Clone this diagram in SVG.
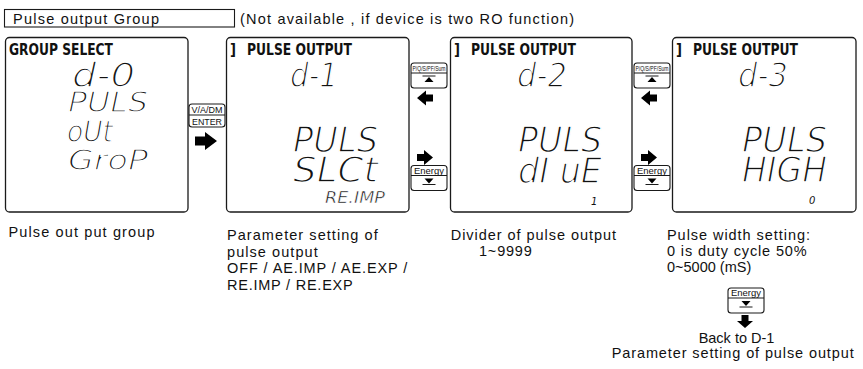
<svg xmlns="http://www.w3.org/2000/svg" width="863" height="369" viewBox="0 0 863 369">
<style>
.panel{fill:#fff;stroke:#1a1a1a;stroke-width:1.3}
.btn{fill:#fff;stroke:#1a1a1a;stroke-width:1.1}
.ln{stroke:#1a1a1a;stroke-width:1;fill:none}
.cap{font-family:"Liberation Sans",Arial,sans-serif;font-size:14.5px;fill:#111}
.hdr{font-family:"DejaVu Sans",sans-serif;font-weight:bold;font-size:15px;fill:#111}
.seg{font-family:"DejaVu Sans",sans-serif;font-style:oblique;fill:#111;stroke:#fff;stroke-width:1.5px}
.segs{font-family:"DejaVu Sans",sans-serif;font-style:oblique;fill:#111}
.segm{font-family:"DejaVu Sans",sans-serif;font-style:oblique;fill:#111;stroke:#fff;stroke-width:0.5px}
.bt{font-family:"Liberation Sans",Arial,sans-serif;fill:#111;text-anchor:middle}
.arr{fill:#000}
</style>
<defs>
<path id="ar" d="M0,-3.5H7V-7.5L16,0L7,7.5V3.5H0Z"/>
<path id="al" d="M16,-3.5H9V-7.5L0,0L9,7.5V3.5H16Z"/>
<path id="ad" d="M-3.5,0V6H-8L0,13L8,6H3.5V0Z"/>
<path id="arBig" d="M0,-4.5H10V-9L22,0L10,9V4.5H0Z"/>
<g id="btnPQ">
<rect class="btn" x="0.5" y="0.5" width="36" height="25" rx="3"/>
<line class="ln" x1="0.5" y1="10.5" x2="36.5" y2="10.5"/>
<text class="bt" x="18.5" y="8.5" font-size="7" textLength="33" lengthAdjust="spacingAndGlyphs">P/Q/S/PF/Sum</text>
<line class="ln" x1="12" y1="13.5" x2="25" y2="13.5" stroke-width="1.4"/>
<path d="M14,19.5L18.5,14.5L23,19.5Z" fill="#000"/>
</g>
<g id="btnEn">
<rect class="btn" x="0.5" y="0.5" width="36" height="25" rx="3"/>
<line class="ln" x1="0.5" y1="10.5" x2="36.5" y2="10.5"/>
<text class="bt" x="18.5" y="8.5" font-size="9" textLength="30" lengthAdjust="spacingAndGlyphs">Energy</text>
<path d="M14,13.5L23,13.5L18.5,18.5Z" fill="#000"/>
<line class="ln" x1="12" y1="19.5" x2="25" y2="19.5" stroke-width="1.4"/>
</g>
</defs>

<g id="title">
<rect x="4.5" y="9.5" width="230" height="17.5" fill="#fff" stroke="#1a1a1a" stroke-width="1.1"/>
<text class="cap" x="13" y="23.5" font-size="14" textLength="146">Pulse output Group</text>
<text class="cap" x="240" y="23.5" font-size="14" textLength="334">(Not available , if device is two RO function)</text>
</g>

<g id="panel-d0">
<rect class="panel" x="5.5" y="37.5" width="182.5" height="174.5" rx="4"/>
<text class="hdr" x="9" y="55" textLength="104" lengthAdjust="spacingAndGlyphs">GROUP SELECT</text>
<text class="seg"><tspan x="72" y="87" font-size="33" textLength="63" lengthAdjust="spacingAndGlyphs">d-0</tspan><tspan x="68" y="112" font-size="28" textLength="80" lengthAdjust="spacingAndGlyphs">PULS</tspan><tspan x="67" y="142" font-size="30" textLength="46" lengthAdjust="spacingAndGlyphs">oUt</tspan><tspan x="68" y="170" font-size="29" textLength="80" lengthAdjust="spacingAndGlyphs">GroP</tspan></text>
<text class="cap" x="8.5" y="237" textLength="146">Pulse out put group</text>
</g>

<g id="panel-d1">
<rect class="panel" x="226.5" y="37.5" width="182.5" height="174.5" rx="4"/>
<text class="hdr" x="230" y="55" textLength="6" lengthAdjust="spacingAndGlyphs">]</text>
<text class="hdr" x="247" y="55" textLength="105" lengthAdjust="spacingAndGlyphs">PULSE OUTPUT</text>
<text class="seg" x="290" y="87" font-size="33" textLength="48" lengthAdjust="spacingAndGlyphs">d-1</text>
<text class="seg" font-size="36"><tspan x="293" y="152" textLength="85" lengthAdjust="spacingAndGlyphs">PULS</tspan><tspan x="293" y="182" textLength="85" lengthAdjust="spacingAndGlyphs">SLCt</tspan></text>
<text class="segm" x="325" y="203" font-size="15" textLength="60" lengthAdjust="spacingAndGlyphs">RE.IMP</text>
<text class="cap" x="227" y="240" textLength="150.7">Parameter setting of</text>
<text class="cap" x="227" y="256.5" textLength="90.7">pulse output</text>
<text class="cap" x="227" y="273" textLength="180.3">OFF / AE.IMP / AE.EXP /</text>
<text class="cap" x="227" y="289.5" textLength="125.7">RE.IMP / RE.EXP</text>
</g>

<g id="panel-d2">
<rect class="panel" x="450.5" y="37.5" width="181.5" height="174.5" rx="4"/>
<text class="hdr" x="454" y="55" textLength="6" lengthAdjust="spacingAndGlyphs">]</text>
<text class="hdr" x="471" y="55" textLength="105" lengthAdjust="spacingAndGlyphs">PULSE OUTPUT</text>
<text class="seg" x="517" y="87" font-size="33" textLength="50" lengthAdjust="spacingAndGlyphs">d-2</text>
<text class="seg" font-size="36"><tspan x="518" y="152" textLength="84" lengthAdjust="spacingAndGlyphs">PULS</tspan><tspan x="518" y="183" textLength="84" lengthAdjust="spacingAndGlyphs">dI uE</tspan></text>
<text class="segs" x="591" y="205" font-size="10">1</text>
<text class="cap" x="450.7" y="240" textLength="165.3">Divider of pulse output</text>
<text class="cap" x="479" y="255.7" letter-spacing="0.8">1~9999</text>
</g>

<g id="panel-d3">
<rect class="panel" x="672.5" y="37.5" width="183.5" height="174.5" rx="4"/>
<text class="hdr" x="676" y="55" textLength="6" lengthAdjust="spacingAndGlyphs">]</text>
<text class="hdr" x="693" y="55" textLength="105" lengthAdjust="spacingAndGlyphs">PULSE OUTPUT</text>
<text class="seg" x="738" y="87" font-size="33" textLength="50" lengthAdjust="spacingAndGlyphs">d-3</text>
<text class="seg" font-size="36"><tspan x="742" y="152" textLength="85" lengthAdjust="spacingAndGlyphs">PULS</tspan><tspan x="742" y="182" textLength="85" lengthAdjust="spacingAndGlyphs">HIGH</tspan></text>
<text class="segs" x="809" y="204" font-size="10">0</text>
<text class="cap" x="667" y="240" textLength="143">Pulse width setting:</text>
<text class="cap" x="667" y="255.7" textLength="139.7">0 is duty cycle 50%</text>
<text class="cap" x="667" y="271.7">0~5000 (mS)</text>
</g>

<g id="btn-enter">
<rect class="btn" x="189" y="104" width="36" height="23" rx="3"/>
<line class="ln" x1="189" y1="115" x2="225" y2="115"/>
<text class="bt" x="207" y="113" font-size="9" textLength="31" lengthAdjust="spacingAndGlyphs">V/A/DM</text>
<text class="bt" x="207" y="125" font-size="9" textLength="30" lengthAdjust="spacingAndGlyphs">ENTER</text>
</g>
<g id="btn-pq1"><use href="#btnPQ" x="410.5" y="62.5"/></g>
<g id="btn-en1"><use href="#btnEn" x="410.5" y="165"/></g>
<g id="btn-pq2"><use href="#btnPQ" x="633.5" y="62.5"/></g>
<g id="btn-en2"><use href="#btnEn" x="633.5" y="165"/></g>
<g id="btn-en3"><use href="#btnEn" x="727.5" y="287.5"/></g>

<g id="back-note">
<text class="cap" x="736.5" y="343.3" font-size="14" text-anchor="middle">Back to D-1</text>
<text class="cap" x="611.7" y="358.3" textLength="242">Parameter setting of pulse output</text>
</g>

<g id="connectors" class="arr">
<use href="#arBig" x="195" y="141"/>
<use href="#al" x="417" y="98"/>
<use href="#ar" x="417" y="157.5"/>
<use href="#al" x="641" y="98"/>
<use href="#ar" x="641" y="157.5"/>
<use href="#ad" x="745" y="315"/>
</g>
</svg>
